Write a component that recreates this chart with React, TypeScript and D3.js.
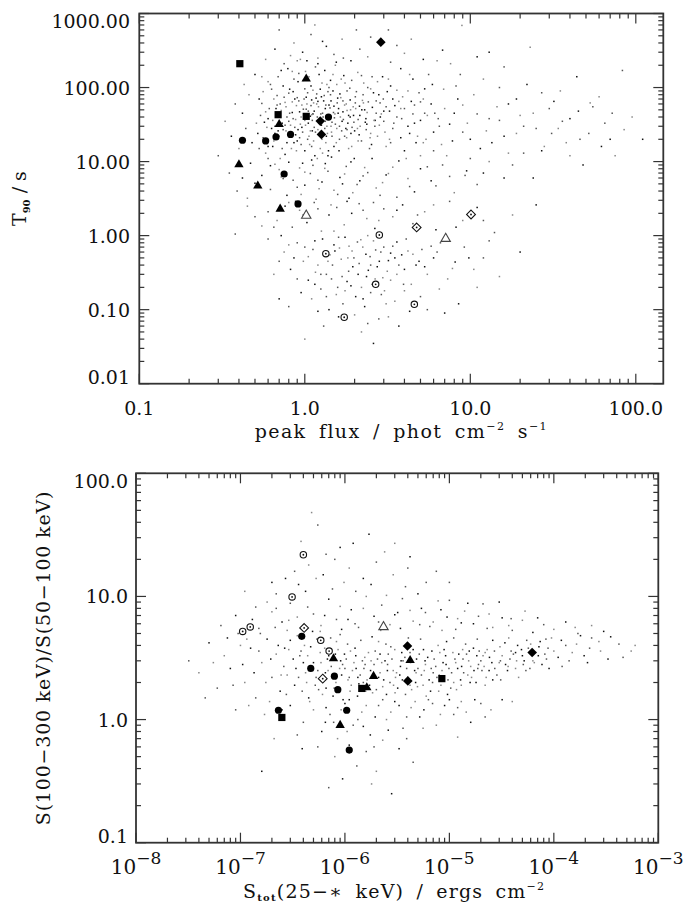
import React from 'react';
import * as d3 from 'd3';

// ---------------- data ----------------
// Top panel: background bursts [peak flux, T90]
const topCloud: [number, number][] = [
  [0.52,24],[0.55,61],[0.58,13],[0.6,38],[0.63,95],[0.65,19],[0.67,52],[0.69,140],[0.71,11],[0.73,33],
  [0.75,74],[0.77,26],[0.79,180],[0.81,45],[0.83,15],[0.85,88],[0.87,29],[0.89,57],[0.91,120],[0.93,21],
  [0.95,40],[0.97,9.5],[0.99,70],[1.01,31],[1.03,230],[1.05,48],[1.07,17],[1.09,105],[1.11,36],[1.13,62],
  [1.15,12],[1.18,82],[1.2,27],[1.22,150],[1.25,44],[1.27,20],[1.3,66],[1.33,35],[1.36,110],[1.39,14],
  [1.42,53],[1.45,25],[1.48,90],[1.51,39],[1.55,18],[1.58,72],[1.62,30],[1.66,130],[1.7,47],[1.74,22],
  [1.78,60],[1.82,33],[1.87,98],[1.92,16],[1.97,42],[2.02,75],[2.08,28],[2.14,56],[2.2,19],[2.27,115],
  [2.34,38],[2.42,64],[2.5,24],[2.6,85],[2.7,45],[2.82,31],[2.95,140],[3.1,55],[3.25,20],[3.4,70],
  [0.54,42],[0.59,29],[0.64,16],[0.68,78],[0.72,49],[0.76,12.5],[0.8,35],[0.84,64],[0.88,23],[0.92,155],
  [0.96,58],[1.0,14],[1.04,85],[1.08,26],[1.12,44],[1.16,190],[1.21,55],[1.26,31],[1.31,78],[1.37,24],
  [1.43,125],[1.49,46],[1.56,28],[1.63,82],[1.71,37],[1.79,21],[1.88,68],[1.98,34],[2.09,160],[2.21,50],
  [2.35,27],[2.5,96],[2.66,36],[2.85,62],[3.05,25],[3.3,105],[3.6,40],[3.9,75],[4.2,30],[4.6,58],
  [0.56,88],[0.62,8.8],[0.66,30],[0.7,22],[0.74,105],[0.78,40],[0.82,270],[0.86,18],[0.9,73],[0.94,32],
  [0.98,125],[1.02,51],[1.06,22],[1.1,68],[1.14,29],[1.19,11],[1.24,95],[1.29,40],[1.34,18],[1.4,58],
  [1.46,34],[1.53,200],[1.6,52],[1.67,26],[1.75,115],[1.84,42],[1.93,29],[2.03,52],[2.13,23],[2.25,80],
  [2.38,46],[2.53,17],[2.7,66],[2.9,44],[3.15,88],[3.45,33],[3.8,52],[4.3,24],[4.9,85],[5.5,42],
  [0.57,34],[0.61,52],[0.65,70],[0.69,26],[0.73,15],[0.77,55],[0.81,95],[0.85,38],[0.89,14],[0.93,47],
  [0.97,25],[1.01,165],[1.05,33],[1.09,57],[1.13,19],[1.17,72],[1.23,37],[1.28,13],[1.33,52],[1.38,88],
  [1.44,30],[1.5,16],[1.57,62],[1.64,40],[1.72,145],[1.8,27],[1.89,50],[1.99,11],[2.1,37],[2.23,67],
  [2.37,32],[2.55,140],[2.75,22],[3.0,48],[3.3,18],[3.7,65],[4.0,14],[4.5,44],[5.2,70],[6.0,25],
  [0.53,15],[0.6,120],[0.67,43],[0.76,31],[0.84,165],[0.91,27],[1.0,96],[1.1,43],[1.2,65],[1.32,28],
  [0.51,33],[0.53,70],[0.56,21],[0.58,47],[0.6,16],[0.62,110],[0.64,36],[0.66,24],[0.68,58],[0.7,42],
  [0.72,170],[0.74,27],[0.76,63],[0.78,18],[0.8,84],[0.82,31],[0.84,46],[0.86,130],[0.88,37],[0.9,19],
  [0.92,66],[0.94,240],[0.96,29],[0.98,51],[1.0,36],[1.02,74],[1.04,20],[1.06,140],[1.08,41],[1.1,16],
  [1.12,92],[1.14,48],[1.16,25],[1.18,60],[1.2,210],[1.22,33],[1.24,15],[1.26,75],[1.28,45],[1.3,24],
  [1.32,170],[1.34,58],[1.36,30],[1.38,12],[1.4,100],[1.42,38],[1.44,66],[1.46,22],[1.48,150],[1.5,56],
  [1.53,32],[1.56,110],[1.59,45],[1.62,20],[1.65,73],[1.68,35],[1.71,250],[1.74,58],[1.77,28],[1.8,90],
  [1.84,15],[1.88,40],[1.92,125],[1.96,55],[2.0,26],[2.05,88],[2.1,19],[2.15,42],[2.2,145],[2.26,62],
  [2.32,34],[2.4,100],[2.48,21],[2.56,54],[2.65,30],[2.75,120],[2.86,40],[2.98,70],[3.1,16],[3.25,48],
  [3.4,28],[3.6,92],[3.8,21],[4.0,52],[4.3,150],[4.6,33],[5.0,64],[5.4,20],[5.9,110],[6.4,38],
  [0.55,140],[0.63,28],[0.71,60],[0.79,23],[0.87,70],[0.95,17],[1.03,60],[1.11,26],[1.19,40],[1.27,115],
  [1.35,22],[1.43,80],[1.52,44],[1.61,14],[1.7,66],[1.8,49],[1.9,24],[2.02,62],[2.16,30],[2.3,50],
  [2.46,15],[2.62,36],[2.8,80],[3.0,35],[3.2,130],[3.5,57],[3.85,38],[4.2,90],[4.7,18],[5.3,45],
  [0.58,240],[0.66,330],[0.75,210],[0.86,400],[0.97,300],[1.09,520],[1.2,250],[1.35,360],[1.5,280],[1.68,450],
  [1.9,230],[2.15,330],[2.4,260],[2.8,410],[3.3,220],[4.0,290],[5.2,240],[0.7,600],[1.15,700],[1.55,220],
  [2.05,600],[0.9,230],[1.28,420],[3.6,370],[8.9,690],[6.8,320],[2.5,480],[7.6,210],[13,300],[3.2,600],[4.4,450],
  [0.55,6.5],[0.62,4.2],[0.7,7.8],[0.78,3.5],[0.85,5.6],[0.93,8.2],[1.0,4.8],[1.08,6.9],[1.17,3.1],[1.27,5.3],
  [1.38,7.4],[1.5,4.1],[1.63,6.1],[1.78,8.6],[1.95,3.8],[2.15,5.5],[2.4,7.1],[2.7,4.4],[3.1,6.6],[3.6,3.3],
  [4.2,5.9],[5.0,8.0],[6.2,4.7],[0.66,9.2],[0.88,2.9],[1.12,8.9],[1.44,2.6],[1.85,3.2],[2.6,2.8],[3.4,8.4],
  [0.5,5.1],[0.74,5.9],[1.22,4.3],[1.69,5.0],[2.25,6.4],[2.95,5.2],[4.6,3.9],[7.5,6.3],[0.95,3.6],[1.33,9.4],
  [0.6,11],[0.72,6.2],[0.8,9.8],[0.9,4.5],[1.0,7.2],[1.1,10.5],[1.2,5.6],[1.32,8.1],[1.45,11.5],[1.58,3.6],
  [1.74,6.8],[1.9,9.9],[2.07,4.9],[2.3,8.3],[2.55,11],[2.85,3.5],[3.2,6.9],[3.7,10.2],[4.3,4.6],[5.0,12],
  [5.8,5.5],[6.8,9.0],[8.0,3.8],[9.5,7.5],[11,4.9],[13,10],[16,6],[21,13],
  [5.2,18],[5.8,60],[6.5,30],[7.2,12],[8.0,45],[9.0,25],[10.5,80],[11.5,15],[13,38],[14.5,55],
  [16,22],[18,9],[20,42],[22,110],[25,28],[28,16],[32,65],[36,35],[40,12],[45,48],
  [52,24],[60,75],[70,20],[83,170],[95,40],[4.5,130],[5.5,8.5],[6.9,95],[7.8,19],[8.7,150],
  [9.6,33],[12,7],[15,100],[19,24],[24,6],[30,52],[38,18],[48,9],[65,33],[4.1,11],
  [5.0,36],[6.0,14],[7.0,52],[8.4,70],[10,11],[12.5,26],[17,60],[27,85],[34,28],[44,140],
  [55,55],[75,12],[4.4,65],[5.6,150],[6.3,230],[11,260],[16,190],[23,350],[3.8,180],[9.3,6.5],
  [4.8,22],[5.3,96],[6.1,45],[6.7,17],[7.5,32],[8.2,105],[9.0,58],[10,20],[11,44],[12,130],
  [13.5,18],[15,36],[17,13],[19,70],[21,30],[24,45],[27,14],[31,24],[35,90],[40,38],
  [46,20],[53,62],[62,16],[72,45],[85,27],[110,20],
  [0.3,12],[0.33,35],[0.36,22],[0.38,60],[0.4,15],[0.42,45],[0.44,28],[0.46,80],[0.48,18],[0.35,7],
  [0.43,110],[0.47,9.5],[0.39,4],[0.45,2.5],[0.5,150],[0.5,1.8],[0.45,3.2],[0.42,6],
  [0.6,2.1],[0.68,1.6],[0.76,2.5],[0.84,1.3],[0.93,2.2],[1.03,1.5],[1.14,2.8],[1.26,1.15],[1.4,1.9],[1.56,2.4],
  [1.73,1.4],[1.92,2.0],[2.13,2.7],[2.37,1.7],[2.65,1.25],[3.0,2.3],[3.4,1.8],[3.9,2.6],[4.5,1.45],[5.3,2.1],
  [6.2,1.2],[7.5,2.9],[9.0,1.6],[11,2.4],[14,1.1],[18,1.9],[25,2.6],[0.38,1.05],[0.55,1.35],[0.72,1.0],
  [0.65,1.3],[0.8,2.8],[0.98,1.9],[1.2,2.3],[1.5,1.15],[1.8,2.9],[2.25,2.2],[2.8,1.6],[3.6,2.2],[4.8,1.9],
  [6.0,2.6],[8.2,1.3],[12,1.6],
  [0.75,0.6],[0.82,0.35],[0.9,0.8],[0.98,0.45],[1.05,0.25],[1.12,0.65],[1.2,0.4],[1.28,0.9],[1.35,0.3],[1.42,0.55],
  [1.5,0.75],[1.58,0.2],[1.66,0.48],[1.75,0.95],[1.84,0.33],[1.93,0.62],[2.03,0.15],[2.13,0.42],[2.24,0.7],[2.36,0.28],
  [2.48,0.52],[2.6,0.85],[2.74,0.38],[2.88,0.6],[3.03,0.18],[3.2,0.46],[3.4,0.72],[3.6,0.3],[3.85,0.55],[4.1,0.9],
  [4.4,0.22],[4.7,0.4],[5.1,0.65],[5.5,0.3],[6.0,0.5],[6.6,0.8],[7.3,0.26],[8.1,0.44],[9.2,0.7],[10.5,0.35],
  [0.86,0.5],[1.0,0.7],[1.16,0.32],[1.31,0.58],[1.47,0.4],[1.62,0.68],[1.8,0.24],[1.98,0.5],[2.18,0.88],[2.42,0.34],
  [2.68,0.64],[2.96,0.27],[3.3,0.58],[3.7,0.4],[4.2,0.62],[4.9,0.45],[5.8,0.72],[1.1,0.14],[1.4,0.1],[1.7,0.12],
  [2.0,0.085],[2.3,0.11],[2.8,0.075],[3.5,0.13],[4.3,0.095],[1.25,0.19],[1.55,0.16],[1.9,0.21],[2.5,0.17],[3.1,0.12],
  [0.95,0.17],[1.3,0.06],[2.2,0.05],[3.7,0.06],[0.8,0.11],[1.0,0.04],[2.6,0.035],[5.0,0.15],[6.5,0.19],[8.5,0.12],
  [12,0.5],[15,0.28],[20,0.6],[13,0.85],[0.65,0.3],[0.7,0.14],[0.6,0.9],[11,0.2],[7.0,0.09],[1.45,0.26],
  [1.85,0.72],[2.1,0.3],[2.55,0.22],[3.3,0.25],[4.0,0.35],
  [0.9,0.26],[1.05,0.52],[1.15,0.85],[1.25,0.3],[1.38,0.45],[1.52,0.62],[1.68,0.28],[1.82,0.5],[1.95,0.38],[2.08,0.82],
  [2.2,0.2],[2.34,0.56],[2.5,0.4],[2.66,0.26],[2.82,0.45],[3.0,0.7],[3.15,0.33],[3.5,0.5],[3.95,0.22],[4.5,0.56],
  [5.3,0.38],[6.3,0.6],[7.8,0.36],[9.8,0.5],[1.6,0.95],[2.4,1.0],[3.6,0.82],[1.35,0.15],[1.75,0.18],[2.25,0.14],
  [2.9,0.16],[4.0,0.18],[1.15,0.22],[0.7,0.45],[0.8,0.75],[1.6,0.08],[2.4,0.065],[3.2,0.08],[1.2,0.095],[5.5,0.1],
];

// Top panel highlighted bursts [peak flux, T90]
const topFilledCircles: [number, number][] = [[1.39,39.9],[0.82,23.3],[0.67,21.5],[0.58,19.0],[0.42,19.4],[0.75,6.8],[0.91,2.68]];
const topFilledTriangles: [number, number][] = [[1.02,131],[0.70,31.8],[0.40,9.1],[0.52,4.7],[0.71,2.29]];
const topFilledSquares: [number, number][] = [[0.405,210],[0.69,43],[1.02,40.8]];
const topFilledDiamonds: [number, number][] = [[1.24,35.2],[1.26,23.3],[2.88,410]];
const topOpenCircles: [number, number][] = [[2.82,1.02],[2.68,0.22],[4.59,0.118],[1.73,0.079],[1.34,0.57]];
const topOpenTriangles: [number, number][] = [[1.02,1.87],[7.1,0.91]];
const topOpenDiamonds: [number, number][] = [[10.1,1.93],[4.74,1.29]];

// Bottom panel: background bursts [fluence, hardness ratio]
const bottomCloud: [number, number][] = [
  [3.2e-7,3.1],[3.6e-7,2.2],[4.1e-7,4.0],[4.6e-7,2.7],[5.2e-7,1.9],[5.8e-7,3.5],[6.5e-7,2.4],[7.3e-7,4.6],[8.2e-7,2.0],[9.1e-7,3.0],
  [1.0e-6,2.6],[1.12e-6,1.7],[1.25e-6,3.8],[1.4e-6,2.3],[1.55e-6,3.2],[1.72e-6,1.9],[1.9e-6,2.8],[2.1e-6,4.3],[2.35e-6,2.1],[2.6e-6,3.4],
  [2.9e-6,2.5],[3.2e-6,1.8],[3.6e-6,3.0],[4.0e-6,2.2],[4.5e-6,3.7],[5.0e-6,2.6],[5.6e-6,1.9],[6.2e-6,3.2],[7.0e-6,2.4],[7.8e-6,4.0],
  [8.7e-6,2.9],[9.7e-6,2.1],[1.08e-5,3.5],[1.2e-5,2.6],[1.35e-5,3.1],[1.5e-5,2.3],[1.7e-5,3.8],[1.9e-5,2.8],[2.1e-5,3.3],[2.4e-5,2.5],
  [2.7e-5,3.6],[3.0e-5,2.9],[3.4e-5,4.2],[3.8e-5,3.1],[4.3e-5,2.6],[4.9e-5,3.7],[5.5e-5,4.4],[6.3e-5,3.0],[7.2e-5,3.9],[8.2e-5,3.4],
  [9.5e-5,4.6],[1.1e-4,3.2],[1.3e-4,4.0],[1.5e-4,3.5],[1.8e-4,4.8],[2.2e-4,3.8],[2.7e-4,4.3],[3.3e-4,3.1],[4.2e-4,4.1],[5.5e-4,3.6],
  [3.4e-7,2.6],[3.9e-7,1.7],[4.4e-7,3.3],[4.9e-7,5.2],[5.5e-7,2.5],[6.1e-7,1.6],[6.8e-7,3.1],[7.6e-7,2.2],[8.6e-7,3.7],[9.6e-7,1.45],
  [1.06e-6,4.1],[1.18e-6,2.5],[1.32e-6,1.55],[1.47e-6,3.0],[1.63e-6,2.1],[1.82e-6,4.7],[2.0e-6,1.75],[2.25e-6,2.9],[2.5e-6,1.6],[2.75e-6,3.9],
  [3.05e-6,2.2],[3.4e-6,2.7],[3.8e-6,1.6],[4.25e-6,2.9],[4.75e-6,2.0],[5.3e-6,4.5],[5.9e-6,2.8],[6.6e-6,1.7],[7.4e-6,2.7],[8.3e-6,1.9],
  [9.2e-6,3.3],[1.03e-5,1.8],[1.15e-5,2.9],[1.28e-5,2.1],[1.43e-5,4.1],[1.6e-5,2.7],[1.8e-5,2.0],[2.0e-5,3.0],[2.25e-5,2.2],[2.55e-5,2.9],
  [2.85e-5,2.3],[3.2e-5,3.3],[3.6e-5,2.5],[4.1e-5,3.4],[4.6e-5,2.2],[5.2e-5,3.0],[5.9e-5,2.6],[6.7e-5,3.5],[7.7e-5,2.8],[8.8e-5,3.8],
  [2.8e-7,2.3],[3.0e-7,4.4],[3.8e-7,3.6],[4.3e-7,2.0],[5.0e-7,2.9],[5.7e-7,4.2],[6.3e-7,2.1],[7.0e-7,3.3],[7.9e-7,1.8],[8.9e-7,2.6],
  [9.9e-7,3.4],[1.1e-6,2.2],[1.22e-6,2.9],[1.36e-6,1.95],[1.52e-6,2.6],[1.68e-6,3.5],[1.86e-6,2.3],[2.05e-6,3.1],[2.3e-6,1.85],[2.55e-6,2.5],
  [2.82e-6,3.1],[3.12e-6,2.4],[3.5e-6,3.5],[3.9e-6,2.6],[4.35e-6,1.75],[4.85e-6,3.1],[5.4e-6,2.3],[6.0e-6,1.55],[6.8e-6,3.6],[7.6e-6,2.2],
  [8.5e-6,2.5],[9.4e-6,4.3],[1.05e-5,2.4],[1.17e-5,1.75],[1.31e-5,2.7],[1.46e-5,3.4],[1.63e-5,2.2],[1.83e-5,3.3],[2.05e-5,2.5],[2.3e-5,3.7],
  [3.3e-7,1.9],[3.7e-7,3.3],[4.2e-7,2.4],[4.7e-7,3.9],[5.3e-7,2.2],[5.9e-7,2.9],[6.6e-7,1.8],[7.4e-7,2.7],[8.3e-7,4.3],[9.3e-7,2.3],
  [1.03e-6,3.1],[1.15e-6,1.9],[1.28e-6,2.6],[1.42e-6,4.4],[1.58e-6,1.7],[1.76e-6,2.5],[1.95e-6,3.6],[2.17e-6,2.4],[2.42e-6,3.0],[2.7e-6,2.0],
  [3.0e-6,3.7],[3.35e-6,2.3],[3.75e-6,3.2],[4.2e-6,1.9],[4.65e-6,2.5],[5.15e-6,3.4],[5.75e-6,2.5],[6.4e-6,2.1],[7.15e-6,3.1],[8.0e-6,2.3],
  [8.9e-6,3.7],[9.9e-6,2.6],[1.1e-5,2.0],[1.23e-5,3.4],[1.37e-5,2.4],[1.53e-5,3.0],[1.72e-5,2.5],[1.93e-5,3.6],[2.15e-5,2.7],[2.42e-5,3.2],
  [2.72e-5,2.6],[3.05e-5,3.9],[3.45e-5,2.8],[3.9e-5,3.6],[4.4e-5,3.0],[5.0e-5,3.3],[5.7e-5,3.8],[6.5e-5,2.9],[7.4e-5,4.3],[8.5e-5,3.1],
  [3.5e-7,4.8],[4.5e-7,1.5],[5.4e-7,4.5],[6.4e-7,3.8],[7.7e-7,1.55],[9.0e-7,4.9],[1.07e-6,2.1],[1.27e-6,3.3],[1.5e-6,2.0],[1.78e-6,3.0],
  [2.1e-6,2.2],[2.47e-6,4.1],[2.92e-6,1.9],[3.45e-6,3.0],[4.05e-6,4.6],[4.8e-6,2.4],[5.65e-6,3.7],[6.7e-6,2.6],[7.9e-6,1.7],[9.3e-6,2.8],
  [1.1e-5,4.6],[1.3e-5,1.9],[1.55e-5,3.6],[1.85e-5,4.5],[2.2e-5,1.9],[2.6e-5,4.4],[3.1e-5,2.1],[3.7e-5,4.6],[4.5e-5,4.0],[5.4e-5,2.5],
  [2.9e-7,3.7],[4.0e-7,2.9],[5.6e-7,1.75],[6.9e-7,2.5],[8.1e-7,3.4],[9.5e-7,2.8],[1.13e-6,3.6],[1.33e-6,2.2],[1.56e-6,2.8],[1.84e-6,1.65],
  [2.17e-6,3.4],[2.56e-6,2.8],[3.02e-6,1.65],[3.55e-6,2.1],[4.2e-6,3.5],[4.95e-6,1.85],[5.85e-6,3.0],[6.9e-6,2.0],[8.1e-6,3.5],[9.6e-6,1.6],
  [1.13e-5,3.1],[1.34e-5,3.7],[1.58e-5,2.0],[1.87e-5,2.6],[2.2e-5,3.5],[2.6e-5,2.1],[3.08e-5,3.0],[3.65e-5,2.7],[4.3e-5,3.5],[5.1e-5,2.8],
  [6.0e-5,4.1],[7.1e-5,3.3],[8.4e-5,4.5],[1.0e-4,3.6],[1.18e-4,4.4],[1.4e-4,3.0],[1.65e-4,4.1],[1.95e-4,3.3],[2.3e-4,4.6],[2.8e-4,3.6],
  [3.5e-4,4.7],[4.6e-4,3.2],[6.0e-4,4.0],[9.0e-5,2.6],[1.2e-4,2.7],[1.6e-4,5.6],[2.1e-4,2.9],
  [1.5e-7,5.5],[2.0e-7,7.5],[2.5e-7,6.2],[3.0e-7,8.8],[3.5e-7,6.8],[4.2e-7,11],[5.0e-7,7.2],[5.9e-7,5.8],[7.0e-7,9.5],[8.3e-7,6.5],
  [9.8e-7,13],[1.15e-6,7.8],[1.35e-6,5.6],[1.6e-6,10],[1.9e-6,6.9],[2.25e-6,8.5],[2.7e-6,5.9],[3.2e-6,7.4],[3.8e-6,12],[4.5e-6,6.3],
  [5.4e-6,8.0],[6.5e-6,5.7],[7.8e-6,9.2],[9.5e-6,6.8],[1.15e-5,5.4],[1.4e-5,7.6],[1.7e-5,6.0],[2.1e-5,8.7],[2.6e-5,5.6],[3.2e-5,6.7],
  [4.0e-5,5.3],[5.0e-5,6.4],[6.3e-5,5.1],[8.0e-5,5.9],[1.0e-4,5.4],[1.3e-4,6.2],[1.7e-4,5.0],[2.3e-4,5.8],[3.0e-4,5.2],
  [2.2e-7,10.5],[2.9e-7,6.4],[3.6e-7,12.5],[4.4e-7,8.2],[5.3e-7,14],[6.4e-7,7.0],[7.6e-7,11.5],[9.0e-7,8.3],[1.07e-6,6.5],[1.27e-6,11],
  [1.5e-6,8.0],[1.78e-6,12.5],[2.1e-6,6.2],[2.5e-6,10.2],[3.0e-6,7.1],[3.55e-6,9.6],[4.2e-6,7.7],[5.0e-6,10.5],[5.9e-6,7.4],[7.0e-6,6.2],
  [8.3e-6,7.8],[1.0e-5,9.3],[1.2e-5,6.6],[1.5e-5,8.8],[1.9e-5,6.9],[2.4e-5,7.2],[3.0e-5,9.0],[3.9e-5,6.6],[5.3e-5,7.6],[7.0e-5,6.7],
  [4.0e-6,17],[2.4e-6,23],[1.2e-6,27],[6.6e-7,22],[3.8e-7,28],[2.0e-7,13],[1.4e-7,8.2],[1.1e-7,11],[9.0e-8,7],[1.0e-5,13],
  [1.8e-7,9],[2.7e-7,14],[3.3e-7,16],[4.5e-7,18],[6.2e-7,15],[8.0e-7,20],[1.1e-6,17],[1.5e-6,14],[2.0e-6,19],[2.9e-6,15],
  [4.2e-6,21],[6.0e-6,13],[3.0e-6,27],[1.7e-6,32],[5.5e-7,38],[4.8e-7,48],[9.0e-7,25],[7.5e-6,16],
  [5.8e-7,5.2],[9.3e-7,5.4],[1.25e-6,6.0],[2.2e-6,5.3],[3.4e-6,5.5],[5.2e-6,5.9],[8.5e-6,5.3],[1.3e-5,6.1],[2.3e-5,5.5],[3.7e-5,5.8],
  [3.0e-7,1.3],[4.0e-7,0.95],[5.0e-7,1.2],[6.0e-7,0.8],[7.2e-7,1.1],[8.5e-7,0.7],[1.0e-6,1.35],[1.2e-6,0.9],[1.45e-6,1.15],[1.75e-6,0.75],
  [2.1e-6,1.3],[2.5e-6,1.0],[3.0e-6,1.4],[3.6e-6,0.85],[4.3e-6,1.25],[5.2e-6,1.05],[6.3e-6,1.45],[7.5e-6,0.9],[9.0e-6,1.3],[1.1e-5,1.1],
  [1.3e-5,1.4],[1.6e-5,0.95],[2.0e-5,1.35],[2.5e-5,1.2],[3.2e-5,1.45],
  [3.5e-7,0.75],[4.6e-7,1.4],[6.6e-7,1.25],[7.8e-7,0.95],[9.2e-7,1.2],[1.1e-6,1.45],[1.33e-6,1.0],[1.6e-6,1.3],[1.95e-6,1.05],[2.3e-6,1.45],
  [2.75e-6,1.15],[3.3e-6,1.3],[3.9e-6,1.05],[4.7e-6,1.4],[5.7e-6,1.2],[6.9e-6,1.35],[8.2e-6,1.1],[1.0e-5,1.45],[1.2e-5,1.25],[1.45e-5,1.15],
  [1.75e-5,1.45],[2.2e-5,1.05],[4.0e-5,1.4],[2.6e-6,0.82],[3.9e-6,0.7],[5.6e-6,0.85],[1.5e-6,0.88],[1.9e-6,0.6],[1.05e-6,0.8],[6.5e-7,0.95],
  [5.5e-7,0.6],[8.0e-7,0.5],[1.1e-6,0.62],[1.6e-6,0.55],[2.3e-6,0.68],[3.3e-6,0.58],[1.3e-6,0.42],[2.0e-6,0.38],[9.5e-7,0.33],[4.5e-6,0.45],
  [1.8e-6,0.3],[2.8e-6,0.25],[7.0e-7,0.28],[1.2e-5,0.72],[3.9e-7,0.58],
  [3.2e-8,3.0],[4.0e-8,2.4],[5.0e-8,4.2],[6.0e-8,1.8],[7.0e-8,3.3],[8.0e-8,2.6],[9.5e-8,5.0],[1.1e-7,2.0],[1.25e-7,3.8],[1.4e-7,1.5],
  [1.6e-7,2.9],[1.8e-7,4.5],[2.0e-7,2.2],[2.2e-7,3.4],[2.4e-7,1.7],[2.6e-7,2.7],[2.8e-7,5.3],[1.3e-7,6.5],[9.0e-8,1.2],[1.7e-7,1.1],
  [2.3e-7,4.0],[1.5e-7,3.6],[1.9e-7,1.4],[1.05e-7,2.8],[6.5e-8,5.8],[2.1e-7,0.7],[1.6e-7,0.38],[4.6e-8,1.5],
  [5.5e-8,2.9],[7.5e-8,4.6],[8.5e-8,1.9],[1.15e-7,4.5],[1.35e-7,2.4],[1.55e-7,5.0],[1.75e-7,2.0],[1.95e-7,3.1],[2.15e-7,5.6],[2.45e-7,2.3],
  [2.65e-7,3.8],[2.75e-7,1.6],[1.2e-7,1.3],[2.5e-7,1.2],[2.2e-7,8],[1.0e-7,4.0],
];

// Bottom panel highlighted bursts [fluence, hardness ratio]
const botFilledCircles: [number, number][] = [[3.86e-7,4.74],[4.71e-7,2.6],[7.93e-7,2.25],[8.55e-7,1.75],[2.31e-7,1.19],[1.04e-6,1.19],[1.10e-6,0.565]];
const botFilledTriangles: [number, number][] = [[7.77e-7,3.13],[9.0e-7,0.90],[1.88e-6,2.25],[4.21e-6,3.03],[1.62e-6,1.82]];
const botFilledSquares: [number, number][] = [[2.49e-7,1.04],[1.45e-6,1.79],[8.47e-6,2.15]];
const botFilledDiamonds: [number, number][] = [[3.97e-6,3.96],[4.0e-6,2.06],[6.2e-5,3.5]];
const botOpenCircles: [number, number][] = [[4.0e-7,21.8],[3.12e-7,9.9],[1.05e-7,5.2],[1.24e-7,5.65],[5.87e-7,4.4],[7.06e-7,3.6]];
const botOpenTriangles: [number, number][] = [[2.34e-6,5.65]];
const botOpenDiamonds: [number, number][] = [[4.07e-7,5.55],[6.13e-7,2.15]];

// Axis ranges and tick labels
const topXDomain = [0.1, 146.6];
const topYDomain = [0.01, 1000];
const topXTickLabels = ['0.1', '1.0', '10.0', '100.0'];
const topYTickLabels = ['0.01', '0.10', '1.00', '10.00', '100.00', '1000.00'];
const botXDomain = [1e-8, 1e-3];
const botYDomain = [0.1, 100];
const botXTickExps = ['−8', '−7', '−6', '−5', '−4', '−3'];
const botYTickLabels = ['0.1', '1.0', '10.0', '100.0'];

// ---------------- rendering ----------------
const FONT = 'DejaVu Serif';
const FS = 19;
const AX = '#333';
const dotColors = ['#111', '#555', '#888'];

function logTicks(domain: number[]) {
  const [a, b] = domain;
  const major: number[] = [];
  const minor: number[] = [];
  for (let k = Math.floor(Math.log10(a)); k <= Math.ceil(Math.log10(b)); k++) {
    for (let m = 1; m < 10; m++) {
      const v = m * Math.pow(10, k);
      if (v < a * 0.999 || v > b * 1.001) continue;
      (m === 1 ? major : minor).push(v);
    }
  }
  return { major, minor };
}

type Pts = [number, number][];
interface MarkerSet { fc: Pts; ft: Pts; fs: Pts; fd: Pts; oc: Pts; ot: Pts; od: Pts }

const triPath = d3.symbol(d3.symbolTriangle, 38)()!;
const sqPath = d3.symbol(d3.symbolSquare, 52)()!;
const diamond = (r: number) => `M0,${-r}L${r},0L0,${r}L${-r},0Z`;

function Markers({ m, sx, sy }: { m: MarkerSet; sx: any; sy: any }) {
  const t = (d: [number, number]) => `translate(${sx(d[0])},${sy(d[1])})`;
  return (
    <g>
      {m.oc.map((d, i) => (
        <g key={'oc' + i} transform={t(d)}>
          <circle r={3.2} fill="white" stroke="#111" strokeWidth={1.1} />
          <circle r={0.9} fill="#111" />
        </g>
      ))}
      {m.od.map((d, i) => (
        <g key={'od' + i} transform={t(d)}>
          <path d={diamond(4.4)} fill="white" stroke="#111" strokeWidth={1.1} />
          <circle r={0.9} fill="#111" />
        </g>
      ))}
      {m.ot.map((d, i) => (
        <path key={'ot' + i} transform={t(d)} d={triPath} fill="white" stroke="#444" strokeWidth={1.1} />
      ))}
      {m.fc.map((d, i) => (
        <circle key={'fc' + i} transform={t(d)} r={3.6} fill="#000" />
      ))}
      {m.ft.map((d, i) => (
        <path key={'ft' + i} transform={t(d)} d={triPath} fill="#000" />
      ))}
      {m.fs.map((d, i) => (
        <path key={'fs' + i} transform={t(d)} d={sqPath} fill="#000" />
      ))}
      {m.fd.map((d, i) => (
        <path key={'fd' + i} transform={t(d)} d={diamond(4.8)} fill="#000" />
      ))}
    </g>
  );
}

function Frame({ x0, x1, y0, y1, sx, sy, xd, yd }: any) {
  const xt = logTicks(xd);
  const yt = logTicks(yd);
  const MJ = 10, MN = 5;
  const lines: any[] = [];
  xt.major.forEach((v, i) => {
    const x = sx(v);
    lines.push(<line key={'xm' + i} x1={x} x2={x} y1={y1} y2={y1 - MJ} />);
    lines.push(<line key={'xmt' + i} x1={x} x2={x} y1={y0} y2={y0 + MJ} />);
  });
  xt.minor.forEach((v, i) => {
    const x = sx(v);
    lines.push(<line key={'xn' + i} x1={x} x2={x} y1={y1} y2={y1 - MN} />);
    lines.push(<line key={'xnt' + i} x1={x} x2={x} y1={y0} y2={y0 + MN} />);
  });
  yt.major.forEach((v, i) => {
    const y = sy(v);
    lines.push(<line key={'ym' + i} x1={x0} x2={x0 + MJ} y1={y} y2={y} />);
    lines.push(<line key={'ymr' + i} x1={x1} x2={x1 - MJ} y1={y} y2={y} />);
  });
  yt.minor.forEach((v, i) => {
    const y = sy(v);
    lines.push(<line key={'yn' + i} x1={x0} x2={x0 + MN} y1={y} y2={y} />);
    lines.push(<line key={'ynr' + i} x1={x1} x2={x1 - MN} y1={y} y2={y} />);
  });
  return (
    <g stroke={AX} strokeWidth={1.2} fill="none">
      {lines}
      <rect x={x0} y={y0} width={x1 - x0} height={y1 - y0} strokeWidth={1.8} />
    </g>
  );
}

function Cloud({ pts, sx, sy }: { pts: Pts; sx: any; sy: any }) {
  return (
    <g>
      {pts.map((d, i) => (
        <rect key={i} x={sx(d[0]) - 0.75} y={sy(d[1]) - 0.75} width={1.5} height={1.5} fill={dotColors[i % 3]} />
      ))}
    </g>
  );
}

function YLabels({ sy, yd, labels, x, y0, y1 }: any) {
  const ticks = logTicks(yd).major;
  return (
    <g fontFamily={FONT} fontSize={FS} fill="#111" textAnchor="end">
      {ticks.map((v: number, i: number) => {
        const c = Math.max(y0 + 7.5, Math.min(y1 - 7, sy(v)));
        return <text key={i} x={x} y={c + 7}>{labels[i]}</text>;
      })}
    </g>
  );
}

export default function App() {
  const T = { x0: 139.3, x1: 663.3, y0: 13.5, y1: 383.7 };
  const B = { x0: 136, x1: 658.3, y0: 473.3, y1: 842.7 };
  const tsx = d3.scaleLog().domain(topXDomain).range([T.x0, T.x1]);
  const tsy = d3.scaleLog().domain(topYDomain).range([T.y1, T.y0]);
  const bsx = d3.scaleLog().domain(botXDomain).range([B.x0, B.x1]);
  const bsy = d3.scaleLog().domain(botYDomain).range([B.y1, B.y0]);

  const topM: MarkerSet = { fc: topFilledCircles, ft: topFilledTriangles, fs: topFilledSquares, fd: topFilledDiamonds, oc: topOpenCircles, ot: topOpenTriangles, od: topOpenDiamonds };
  const botM: MarkerSet = { fc: botFilledCircles, ft: botFilledTriangles, fs: botFilledSquares, fd: botFilledDiamonds, oc: botOpenCircles, ot: botOpenTriangles, od: botOpenDiamonds };

  const topXMajor = logTicks(topXDomain).major;
  const botXMajor = logTicks(botXDomain).major;

  return (
    <svg width={688} height={904} style={{ position: 'absolute', left: 0, top: 0, background: 'white' }}>
      <rect width={688} height={904} fill="white" />
      {/* ---- top panel ---- */}
      <Cloud pts={topCloud} sx={tsx} sy={tsy} />
      <Markers m={topM} sx={tsx} sy={tsy} />
      <Frame {...T} sx={tsx} sy={tsy} xd={topXDomain} yd={topYDomain} />
      <YLabels sy={tsy} yd={topYDomain} labels={topYTickLabels} x={130} y0={T.y0} y1={T.y1} />
      <g fontFamily={FONT} fontSize={FS} fill="#111" textAnchor="middle">
        {topXMajor.map((v, i) => (
          <text key={i} x={tsx(v)} y={T.y1 + 31}>{topXTickLabels[i]}</text>
        ))}
        <text x={(T.x0 + T.x1) / 2} y={T.y1 + 54} letterSpacing={1.4} wordSpacing={5}>
          peak flux / phot cm<tspan fontSize={11} dy={-8}>−2</tspan><tspan dy={8}> s</tspan><tspan fontSize={11} dy={-8}>−1</tspan>
        </text>
      </g>
      <text transform={`translate(26,${(T.y0 + T.y1) / 2}) rotate(-90)`} fontFamily={FONT} fontSize={FS} fill="#111" textAnchor="middle">
        T<tspan fontSize={10} fontWeight="bold" dy={4}>90</tspan><tspan dy={-4}> / s</tspan>
      </text>

      {/* ---- bottom panel ---- */}
      <Cloud pts={bottomCloud} sx={bsx} sy={bsy} />
      <Markers m={botM} sx={bsx} sy={bsy} />
      <Frame {...B} sx={bsx} sy={bsy} xd={botXDomain} yd={botYDomain} />
      <YLabels sy={bsy} yd={botYDomain} labels={botYTickLabels} x={128} y0={B.y0} y1={B.y1} />
      <g fontFamily={FONT} fill="#111" textAnchor="middle">
        {botXMajor.map((v, i) => (
          <text key={i} x={bsx(v)} y={B.y1 + 31} fontSize={FS + 1}>
            10<tspan fontSize={17} dy={-10}>{botXTickExps[i]}</tspan>
          </text>
        ))}
        <text x={(B.x0 + B.x1) / 2 - 3} y={B.y1 + 55} fontSize={FS} letterSpacing={1.2} wordSpacing={5}>
          S<tspan fontSize={10} fontWeight="bold" dy={3}>tot</tspan><tspan dy={-3}>(25−∗ keV) / ergs cm</tspan><tspan fontSize={11} dy={-8}>−2</tspan>
        </text>
      </g>
      <text transform={`translate(50,${(B.y0 + B.y1) / 2}) rotate(-90)`} fontFamily={FONT} fontSize={FS} fill="#111" textAnchor="middle" letterSpacing={0.8}>
        S(100−300 keV)/S(50−100 keV)
      </text>
    </svg>
  );
}
